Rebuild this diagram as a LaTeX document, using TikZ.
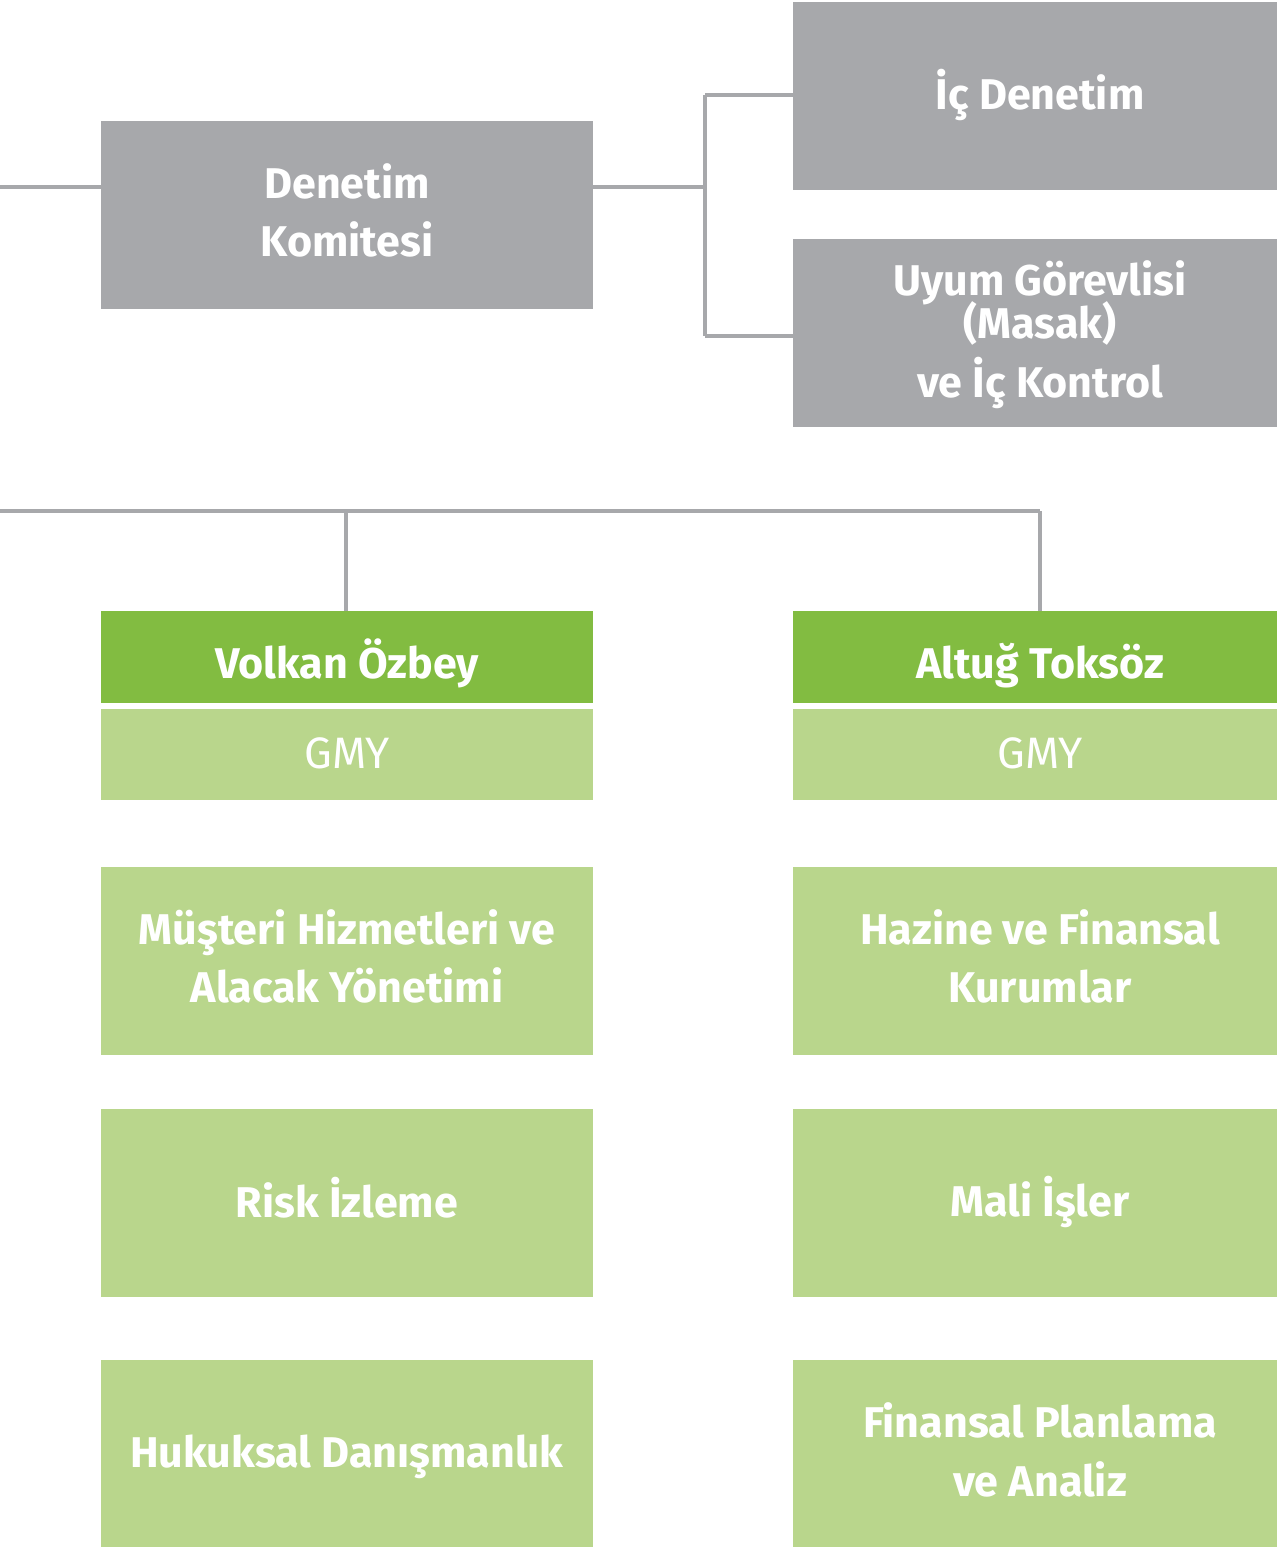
\documentclass[tikz,border=0pt]{standalone}
\usepackage{fontspec}
\setmainfont{Fira Sans}
\definecolor{boxgray}{HTML}{A7A8AB}
\definecolor{dgreen}{HTML}{82BC41}
\definecolor{lgreen}{HTML}{B9D68C}
\newcommand{\myTopStrut}{\rule{0pt}{40pt}}
\newcommand{\myBotStrut}[1]{\rule[-#1]{0pt}{#1}}
\tikzset{
  box/.style={inner sep=0pt, align=center, text=white, font=\fontsize{43}{58}\selectfont\bfseries},
  graybox/.style={box, fill=boxgray, minimum height=188pt},
  headbox/.style={box, fill=dgreen, minimum height=92pt},
  gmybox/.style={box, fill=lgreen, minimum height=91pt, font=\fontsize{44}{58}\selectfont},
  unitbox/.style={box, fill=lgreen, minimum height=188pt},
  wl/.style={minimum width=492pt},
  wr/.style={minimum width=494pt},
  conn/.style={draw=boxgray, line width=4pt}
}
\begin{document}
\begin{tikzpicture}[x=1pt,y=-1pt]
\useasboundingbox (0,0) rectangle (1277,1548);
\node[graybox,wl] (denetim) at (347,215) {\myTopStrut Denetim\\Komitesi\myBotStrut{15.4pt}};
\node[graybox,wr,text height=29.6pt,text depth=3pt] (icdenetim) at (1040,96) {İç Denetim};
\node[graybox,wr] (uyum) at (1040,333) {\myTopStrut Uyum Görevlisi\\[-15pt](Masak)\\[1pt]ve İç Kontrol\myBotStrut{13.4pt}};
\node[headbox,wl,text height=42.6pt,text depth=0pt] (volkan) at (347,657) {Volkan Özbey};
\node[gmybox,wl,text height=30.3pt,text depth=3pt] (gmy1) at (347,754.5) {GMY};
\node[headbox,wr,text height=42.6pt,text depth=0pt] (altug) at (1040,657) {Altuğ Toksöz};
\node[gmybox,wr,text height=30.3pt,text depth=3pt] (gmy2) at (1040,754.5) {GMY};
\node[unitbox,wl] (musteri) at (347,961) {\myTopStrut Müşteri Hizmetleri ve\\Alacak Yönetimi\myBotStrut{15.4pt}};
\node[unitbox,wr] (hazine) at (1040,961) {\myTopStrut Hazine ve Finansal\\Kurumlar\myBotStrut{15.4pt}};
\node[unitbox,wl,text height=29.6pt,text depth=1pt] (risk) at (347,1203) {Risk İzleme};
\node[unitbox,wr,text height=29.6pt,text depth=2pt] (mali) at (1040,1203) {Mali İşler};
\node[unitbox,wl,minimum height=187pt,text height=29.6pt,text depth=2pt] (hukuk) at (347,1453.5) {Hukuksal Danışmanlık};
\node[unitbox,wr,minimum height=187pt] (finans) at (1040,1453.5) {\myTopStrut Finansal Planlama\\[1pt]ve Analiz\myBotStrut{13.4pt}};
% connectors
\coordinate (lin) at (0,187);
\coordinate (j) at (705,187);
\coordinate (jt) at (705,95);
\coordinate (jb) at (705,336);
\draw[conn] (lin) -- (lin -| denetim.west);
\draw[conn] (j -| denetim.east) -- (j);
\draw[conn] (jt) -- (jb);
\draw[conn] (jt) -- (jt -| icdenetim.west);
\draw[conn] (jb) -- (jb -| uyum.west);
\coordinate (h0) at (0,511);
\coordinate (h1) at (346,511);
\coordinate (h2) at (1040,511);
\draw[conn] (h0) -- (h2);
\draw[conn] (h1) -- (h1 |- volkan.north);
\draw[conn] (h2) -- (h2 |- altug.north);
\end{tikzpicture}
\end{document}
